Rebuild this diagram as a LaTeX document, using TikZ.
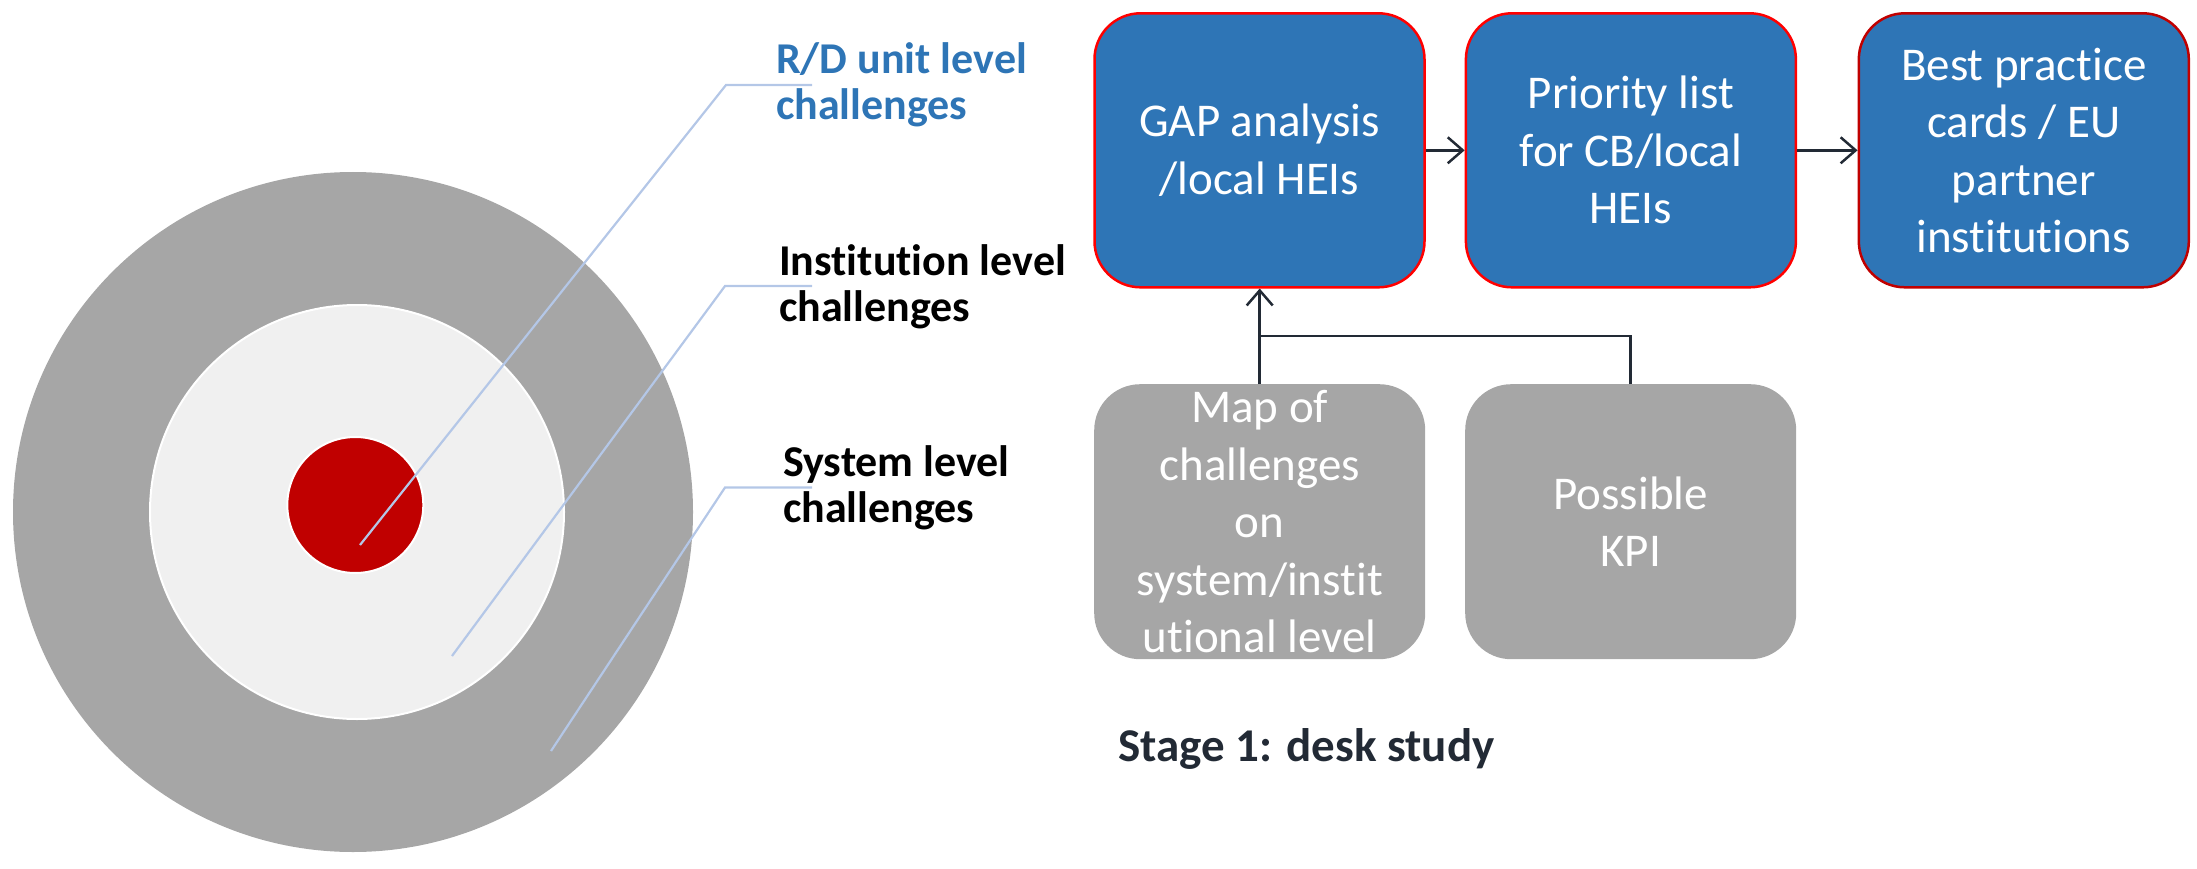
\documentclass[tikz,border=0pt]{standalone}
\usepackage{fontspec}
\setmainfont{Carlito}[Ligatures={NoCommon}]
\usetikzlibrary{arrows.meta}
\definecolor{boxblue}{HTML}{2E75B6}
\definecolor{boxgray}{HTML}{A6A6A6}
\definecolor{ringgray}{HTML}{A6A6A6}
\definecolor{innerfill}{HTML}{F0F0F0}
\definecolor{coreRed}{HTML}{C00000}
\definecolor{leadercol}{HTML}{B4C7E7}
\definecolor{darkline}{HTML}{222A35}
\definecolor{labelblue}{HTML}{2E75B6}
\definecolor{brightred}{HTML}{FF0000}
\definecolor{darkred}{HTML}{C00000}
\begin{document}
\begin{tikzpicture}[x=1pt,y=-1pt,
  boxtext/.style={text=white, align=center, font=\fontsize{47}{57.5}\selectfont, inner sep=0pt},
  bluebox/.style={boxtext, rectangle, rounded corners=46pt, fill=boxblue, draw=brightred, line width=2.5pt, minimum width=330pt, minimum height=274pt},
  graybox/.style={boxtext, rectangle, rounded corners=46pt, fill=boxgray, minimum width=331pt, minimum height=275pt},
  flow/.style={draw=darkline, line width=2.5pt},
  flowarrow/.style={flow, -{Straight Barb[length=15pt,width=26pt]}},
  leaderline/.style={draw=leadercol, line width=2.2pt},
  ringlabel/.style={anchor=base west, align=left, inner sep=0pt, font=\bfseries\fontsize{44}{46}\selectfont}
]
\useasboundingbox (0,0) rectangle (2197,869);

% target circles
\fill[ringgray] (353,512) circle (340pt);
\filldraw[fill=innerfill, draw=white, line width=2pt] (357,512) circle (207pt);
\filldraw[fill=coreRed, draw=white, line width=2pt] (355.3,505) circle (68pt);

% leader lines
\coordinate (rdpt) at (360,545);
\coordinate (rdelb) at (726,85);
\coordinate (rdend) at (812,85);
\coordinate (inpt) at (452,656);
\coordinate (inelb) at (725,286);
\coordinate (inend) at (812,286);
\coordinate (sypt) at (551,751);
\coordinate (syelb) at (725,487.5);
\coordinate (syend) at (812,487.5);
\draw[leaderline] (rdpt) -- (rdelb) -- (rdend);
\draw[leaderline] (inpt) -- (inelb) -- (inend);
\draw[leaderline] (sypt) -- (syelb) -- (syend);

% ring labels (anchored at the baseline of their last line)
\node[ringlabel, text=labelblue] (rdlab) at (776,119.6) {R/D unit level\\challenges};
\node[ringlabel, text=black] (inlab) at (779,321.4) {Institution level\\challenges};
\node[ringlabel, text=black] (sylab) at (783,522) {System level\\challenges};

% top row
\node[bluebox] (gap) at (1259.5,150.3) {GAP analysis\\/local HEIs};
\node[bluebox] (prio) at (1630.9,150.3) {Priority list\\for CB/local\\HEIs};
\node[bluebox, draw=darkred] (best) at (2023.8,150.3) {Best practice\\cards / EU\\partner\\institutions};

% bottom row
\node[graybox] (map) at (1259.7,521.7) {Map of\\challenges\\on\\system/instit\\utional level};
\node[graybox] (kpi) at (1630.7,521.7) {Possible\\KPI};

% connectors
\draw[flowarrow] (gap.east) -- (prio.west);
\draw[flowarrow] (prio.east) -- (best.west);
\draw[flowarrow] (map.north) -- (map.north |- gap.south);
\coordinate (jn) at (1259.7,336);
\draw[flow] (kpi.north) |- (jn);

% caption
\node[anchor=base west, inner sep=0pt, text=darkline, font=\bfseries\fontsize{47}{56}\selectfont] (stage) at (1118,761.7) {Stage 1: desk study};
\end{tikzpicture}
\end{document}
